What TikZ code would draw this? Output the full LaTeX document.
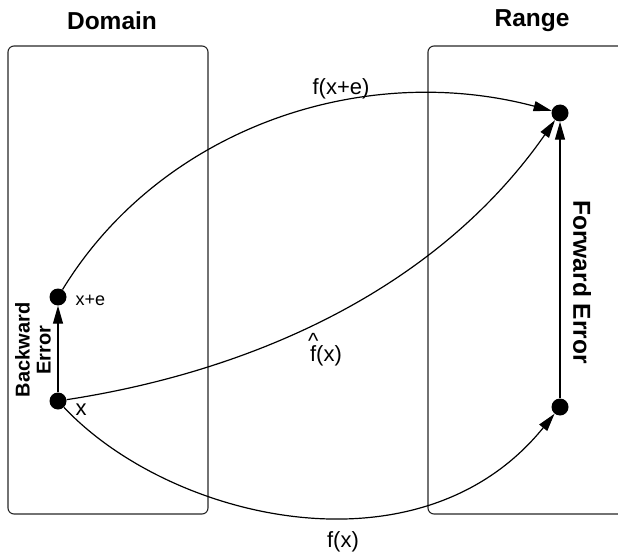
\documentclass[tikz,border=0pt]{standalone}
\usepackage{fontspec}
\setmainfont{Liberation Sans}
\usetikzlibrary{arrows.meta}
\tikzset{
  pt/.style={circle, fill=black, inner sep=0pt, minimum size=17pt},
  panel/.style={draw, black!85, line width=1.1pt, rounded corners=6pt},
  conn/.style={line width=1.2pt, -{Triangle[length=18pt, width=10pt]}},
  ttl/.style={font=\fontsize{24.5}{28}\selectfont\bfseries},
  lbl/.style={font=\fontsize{22}{26}\selectfont}
}
\begin{document}
\begin{tikzpicture}[x=1pt, y=-1pt]
\clip (0,0) rectangle (618,556);
% domain and range panels
\draw[panel] (8,46) rectangle (208,514);
\draw[panel] (428,46) rectangle (640,514);
\node[ttl] (dom) at (112,21) {Domain};
\node[ttl] (ran) at (532,21) {Range};
% points
\node[pt] (xe) at (58,297) {};
\node[pt] (x) at (58,401) {};
\node[pt] (fxe) at (560,113) {};
\node[pt] (fx) at (560,407) {};
\node[font=\fontsize{18}{20}\selectfont, anchor=west] (xelbl) at (72,300) {x+e};
\node[lbl, anchor=west] (xlbl) at (72,410) {x};
% errors
\draw[conn] (x) -- (xe);
\draw[conn] (fx) -- (fxe);
\node[font=\fontsize{20}{21}\selectfont\bfseries, rotate=90, align=center] (be) at (33,350) {Backward\\Error};
\node[ttl, rotate=-90] (fe) at (582,282) {Forward Error};
% mappings
\draw[conn] (xe) .. controls (160,130) and (360,60) .. (fxe);
\draw[conn] (x) .. controls (260,370) and (440,285) .. (fxe);
\draw[conn] (x) .. controls (170,520) and (420,580) .. (fx);
\node[lbl] (fxelbl) at (341,89) {f(x+e)};
\node[lbl] (fhlbl) at (326,356) {\ooalign{f\cr\hidewidth\raisebox{.62em}{\textasciicircum}\hidewidth\cr}(x)};
\node[lbl] (fxlbl) at (343,542) {f(x)};
\end{tikzpicture}
\end{document}
